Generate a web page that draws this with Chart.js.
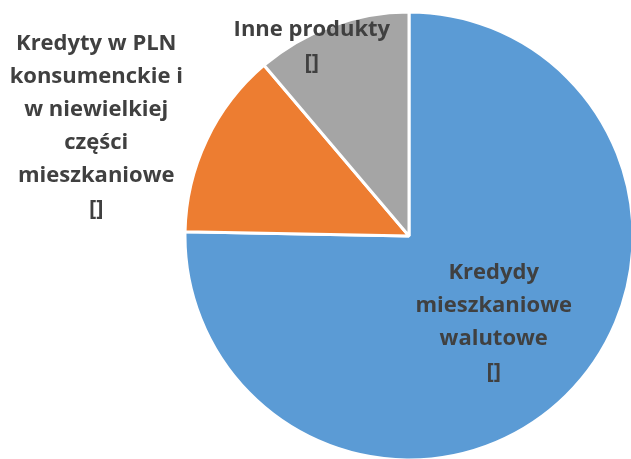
<!DOCTYPE html>
<html>
<head>
<meta charset="utf-8">
<script src="https://cdn.jsdelivr.net/npm/chart.js@4.4.0/dist/chart.umd.min.js"></script>
<style>
    html, body { margin: 0; padding: 0; background: #fff; }
    #wrap { width: 631px; height: 459px; position: relative; }
</style>
</head>
<body>
<div id="wrap"><canvas id="pie-chart"></canvas></div>
<script>
// data
const categories = [
    "Kredydy mieszkaniowe walutowe",
    "Kredyty w PLN konsumenckie i w niewielkiej części mieszkaniowe",
    "Inne produkty"
];
const labelLines = [
    ["Kredydy", "mieszkaniowe", "walutowe", "[]"],
    ["Kredyty w PLN", "konsumenckie i", "w niewielkiej", "części", "mieszkaniowe", "[]"],
    ["Inne produkty", "[]"]
];
const shares = [75.3, 13.5, 11.2];
const sliceColors = ["#5B9BD5", "#ED7D31", "#A5A5A5"];

// how far out (fraction of radius) each label sits, and small angle nudge (deg)
const labelDist = [0.54, 1.48, 0.95];
const labelNudge = [0, -6, -7];

const sliceLabels = {
    id: "sliceLabels",
    afterDatasetsDraw(chart) {
        const ctx = chart.ctx;
        const meta = chart.getDatasetMeta(0);
        ctx.save();
        ctx.font = "bold 22px 'Open Sans', sans-serif";
        ctx.fillStyle = "#404040";
        ctx.textAlign = "center";
        ctx.textBaseline = "middle";
        meta.data.forEach((arc, i) => {
            const p = arc.getProps(["x", "y", "startAngle", "endAngle", "outerRadius"], true);
            const mid = (p.startAngle + p.endAngle) / 2 + labelNudge[i] * Math.PI / 180;
            const r = p.outerRadius * labelDist[i];
            const cx = p.x + Math.cos(mid) * r;
            const cy = p.y + Math.sin(mid) * r;
            const lines = labelLines[i];
            const lh = 33;
            const top = cy - (lines.length - 1) * lh / 2;
            lines.forEach((t, k) => ctx.fillText(t, cx, top + k * lh));
        });
        ctx.restore();
    }
};

new Chart(document.getElementById("pie-chart").getContext("2d"), {
    type: "pie",
    data: {
        labels: categories,
        datasets: [{
            data: shares,
            backgroundColor: sliceColors,
            borderColor: "#ffffff",
            borderWidth: 3,
            radius: 224
        }]
    },
    options: {
        responsive: true,
        maintainAspectRatio: false,
        animation: false,
        layout: { padding: { left: 187, right: 0, top: 13, bottom: 0 } },
        plugins: {
            legend: { display: false },
            tooltip: { enabled: false }
        }
    },
    plugins: [sliceLabels]
});
</script>
</body>
</html>
